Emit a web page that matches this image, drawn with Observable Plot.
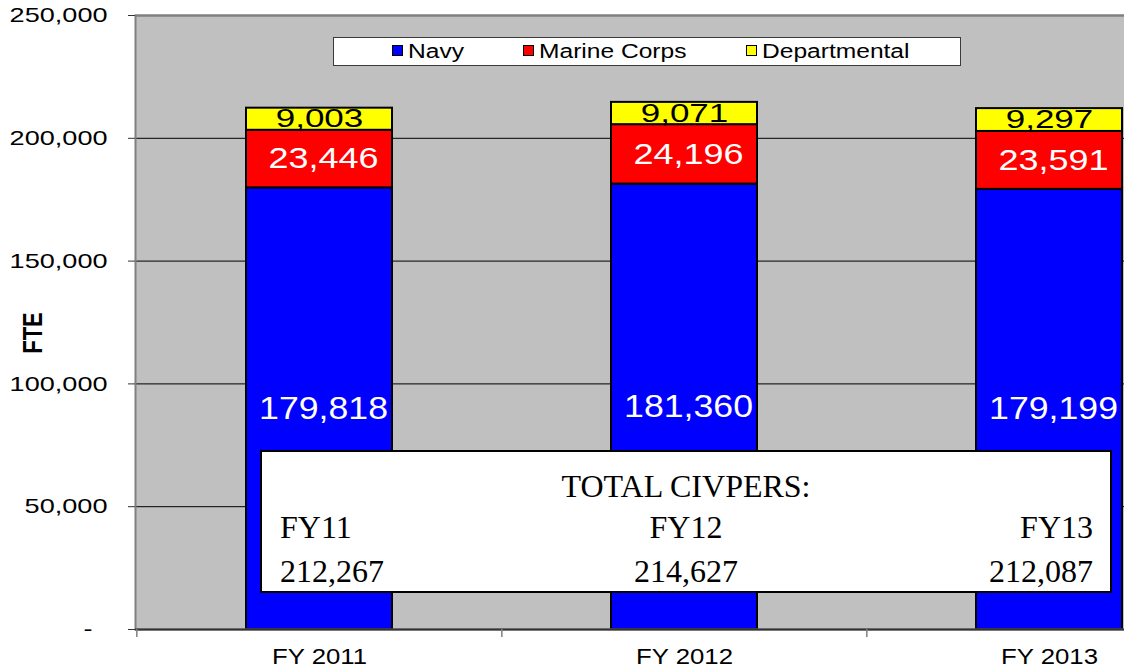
<!DOCTYPE html>
<html>
<head>
<meta charset="utf-8">
<script src="https://cdn.jsdelivr.net/npm/d3@7"></script>
<script src="https://cdn.jsdelivr.net/npm/@observablehq/plot@0.6"></script>
<style>
  html, body { margin: 0; padding: 0; background: white; }
  #wrap { position: relative; width: 1124px; height: 670px; overflow: hidden; background: white; }
  #wrap svg { position: absolute; left: 0; top: 0; }
  .sans { font-family: "Liberation Sans", Arial, sans-serif; }
  .serif { font-family: "Liberation Serif", "Times New Roman", serif; }
  #legend { position: absolute; left: 333px; top: 37px; width: 628px; height: 29px; box-sizing: border-box;
            border: 1.5px solid #3a3a3a; background: white; }
  .lg-item { position: absolute; top: 0; height: 26px; }
  .lg-sw { position: absolute; top: 7px; left: 0; width: 11px; height: 11px; box-sizing: border-box; border: 1.5px solid #000; }
  .lg-tx { position: absolute; left: 16px; top: 0; line-height: 26px; font-size: 19.5px; white-space: nowrap;
           transform: scaleX(1.26); transform-origin: left center; color: #000; }
  #totals { position: absolute; left: 260px; top: 450px; width: 852px; height: 143px; box-sizing: border-box;
            border: 2px solid #000; background: white; }
  .tt { position: absolute; font-size: 32px; line-height: 32px; color: #000; white-space: nowrap; }
  #fte { position: absolute; left: 33px; top: 333px; font-size: 22px; font-weight: bold; white-space: nowrap;
         transform: translate(-50%, -50%) rotate(-90deg) scaleY(1.29); }
</style>
</head>
<body>
<div id="wrap"></div>
<script>
// ---- data ----
const years = ["FY 2011", "FY 2012", "FY 2013"];
const series = ["Navy", "Marine Corps", "Departmental"];
const seriesColors = ["#0000ff", "#ff0000", "#ffff00"];
const navy = [179818, 181360, 179199];
const marineCorps = [23446, 24196, 23591];
const departmental = [9003, 9071, 9297];
const yTicks = [0, 50000, 100000, 150000, 200000, 250000];
const gridTicks = [50000, 100000, 150000, 200000];
const totalTitle = "TOTAL CIVPERS:";
const totalYears = ["FY11", "FY12", "FY13"];
const totals = [212267, 214627, 212087];
const yLabel = "FTE";

const fmt = d3.format(",");
const seriesValues = [navy, marineCorps, departmental];
const table = years.flatMap((year, i) => {
  let base = 0;
  return seriesValues.map((vals, j) => {
    const y1 = base, y2 = base + vals[i];
    base = y2;
    return {year, series: series[j], value: vals[i], y1, y2, mid: (y1 + y2) / 2};
  });
});

const xRange = [136, 1232];
const step = (xRange[1] - xRange[0]) / years.length;

const chart = Plot.plot({
  width: 1124,
  height: 670,
  marginLeft: 135,
  marginRight: 0,
  marginTop: 15,
  marginBottom: 41,
  style: {fontFamily: "'Liberation Sans', Arial, sans-serif", background: "white", overflow: "hidden"},
  x: {domain: years, range: xRange, paddingInner: 0.6, paddingOuter: 0.3, label: null},
  y: {domain: [0, 250000], label: null},
  color: {domain: series, range: seriesColors},
  marks: [
    Plot.frame({fill: "#c0c0c0"}),
    Plot.ruleY(gridTicks, {stroke: "#000", strokeWidth: 1}),
    Plot.ruleY([250000], {stroke: "#808080", strokeWidth: 2}),
    Plot.barY(table, {x: "year", y1: "y1", y2: "y2", fill: "series", stroke: "#000", strokeWidth: 2}),
    Plot.text(table.filter(d => d.series === "Navy"), {
      x: "year", y: "mid", text: d => fmt(d.value), fill: "white", fontSize: 31, dx: 4
    }),
    Plot.text(table.filter(d => d.series === "Marine Corps"), {
      x: "year", y: "mid", text: d => fmt(d.value), fill: "white", fontSize: 29, dx: 4
    }),
    Plot.text(table.filter(d => d.series === "Departmental"), {
      x: "year", y: "mid", text: d => fmt(d.value), fill: "black", fontSize: 25
    }),
    Plot.frame({stroke: "#808080", strokeWidth: 2, insetRight: -20}),
    Plot.ruleY([0], {stroke: "#333", strokeWidth: 2}),
    Plot.ruleX(years, {x: d => d, y1: 0, y2: 0, insetBottom: -8, dx: -step / 2, stroke: "#808080", strokeWidth: 1.5}),
    Plot.axisY({
      ticks: yTicks, tickSize: 7, tickPadding: 21, fontSize: 21, label: null, stroke: "#333",
      tickFormat: d => d === 0 ? "-\u2007" : fmt(d)
    }),
    Plot.axisX({tickSize: 0, tickPadding: 19, fontSize: 22, label: null})
  ]
});

const wrap = document.getElementById("wrap");
wrap.appendChild(chart);

// widen sans text like the (horizontally stretched) original
function stretchNodes(nodes, f) {
  nodes.forEach(t => {
    const w = t.getComputedTextLength();
    if (w > 0) {
      t.setAttribute("textLength", (w * f).toFixed(1));
      t.setAttribute("lengthAdjust", "spacingAndGlyphs");
    }
  });
}
function byFontSize(size) {
  const out = [];
  chart.querySelectorAll("g").forEach(g => {
    const fs = g.getAttribute("font-size");
    if (fs !== null && parseFloat(fs) === size) g.querySelectorAll("text").forEach(t => out.push(t));
  });
  return out;
}
stretchNodes(chart.querySelectorAll('g[aria-label="y-axis tick label"] text'), 1.29);
stretchNodes(chart.querySelectorAll('g[aria-label="x-axis tick label"] text'), 1.17);
stretchNodes(byFontSize(31), 1.15);
stretchNodes(byFontSize(29), 1.24);
stretchNodes(byFontSize(25), 1.4);

// y label
const fte = document.createElement("div");
fte.id = "fte"; fte.className = "sans"; fte.textContent = yLabel;
wrap.appendChild(fte);

// legend
const legend = document.createElement("div");
legend.id = "legend"; legend.className = "sans";
const legendLefts = [58, 189, 412];
series.forEach((s, i) => {
  const item = document.createElement("div");
  item.className = "lg-item";
  item.style.left = legendLefts[i] + "px";
  const sw = document.createElement("div");
  sw.className = "lg-sw"; sw.style.background = seriesColors[i];
  const tx = document.createElement("div");
  tx.className = "lg-tx"; tx.textContent = s;
  item.appendChild(sw); item.appendChild(tx);
  legend.appendChild(item);
});
wrap.appendChild(legend);

// totals box
const box = document.createElement("div");
box.id = "totals";
wrap.appendChild(box);
function addText(txt, top, align) {
  const el = document.createElement("div");
  el.className = "tt serif";
  el.textContent = txt;
  el.style.top = top + "px";
  if (align === "left") el.style.left = "280px";
  else if (align === "right") el.style.right = (1124 - 1093) + "px";
  else { el.style.left = "686px"; el.style.transform = "translateX(-50%)"; }
  wrap.appendChild(el);
}
addText(totalTitle, 470, "center");
const aligns = ["left", "center", "right"];
totalYears.forEach((t, i) => addText(t, 511, aligns[i]));
totals.forEach((t, i) => addText(fmt(t), 555, aligns[i]));
</script>
</body>
</html>
